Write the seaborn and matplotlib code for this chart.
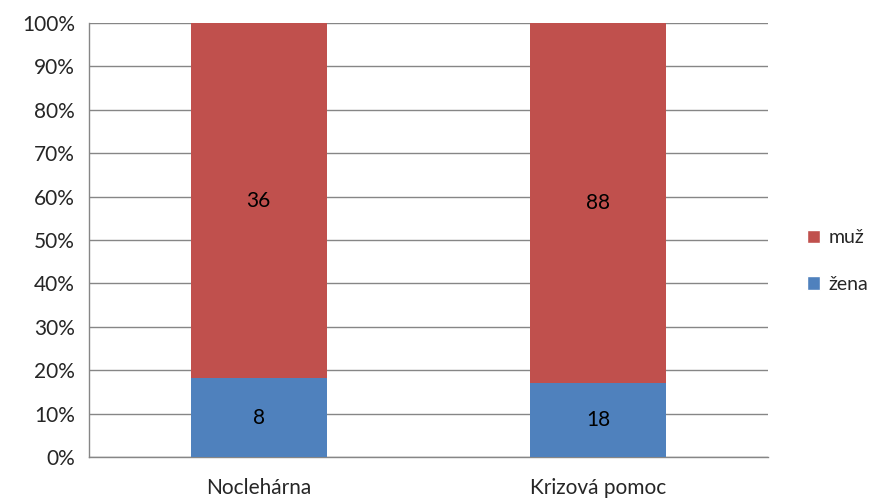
import seaborn as sns
import pandas as pd
import matplotlib.pyplot as plt
from matplotlib.patches import Patch

categories = ['Noclehárna', 'Krizová pomoc']
zena = [8, 18]
muz = [36, 88]
series_names = ['muž', 'žena']
colors = {'muž': '#C0504D', 'žena': '#4F81BD'}

df = pd.DataFrame({'kategorie': categories, 'žena': zena, 'muž': muz})
df['total'] = df['žena'] + df['muž']
df['zena_pct'] = df['žena'] / df['total'] * 100
df['muz_pct'] = 100.0

sns.set_style('white')
plt.rcParams['font.family'] = ['Lato', 'DejaVu Sans']

fig = plt.figure(figsize=(8.77, 4.99), dpi=100)
ax = fig.add_axes([0.1015, 0.0842, 0.7742, 0.8697])

# full bar = muž on top, žena drawn over it from zero
sns.barplot(data=df, x='kategorie', y='muz_pct', color=colors['muž'], width=0.4,
            saturation=1, ax=ax, order=categories, zorder=3, linewidth=0)
sns.barplot(data=df, x='kategorie', y='zena_pct', color=colors['žena'], width=0.4,
            saturation=1, ax=ax, order=categories, zorder=3, linewidth=0)

for i, row in df.iterrows():
    ax.text(i, row['zena_pct'] / 2, str(row['žena']), ha='center', va='center',
            fontsize=15, color='black', zorder=4)
    ax.text(i, row['zena_pct'] + (100 - row['zena_pct']) / 2, str(row['muž']),
            ha='center', va='center', fontsize=15, color='black', zorder=4)

ax.set_xlim(-0.5, 1.5)
ax.set_ylim(0, 100)
ax.set_yticks(range(0, 101, 10))
ax.set_yticklabels([f'{v}%' for v in range(0, 101, 10)], fontsize=15)
ax.set_xticks(range(len(categories)))
ax.set_xticklabels(categories, fontsize=15)
ax.set_xticks([-0.5, 0.5, 1.5], minor=True)
ax.tick_params(axis='x', which='major', length=0, pad=15)
ax.tick_params(axis='x', which='minor', length=6, color='#868686', width=1)
ax.tick_params(axis='y', length=6, color='#868686', width=1, pad=4)
ax.set_xlabel('')
ax.set_ylabel('')

ax.yaxis.grid(True, color='#868686', linewidth=1, zorder=0)
ax.set_axisbelow(True)
for s in ['top', 'right']:
    ax.spines[s].set_visible(False)
for s in ['left', 'bottom']:
    ax.spines[s].set_color('#868686')
    ax.spines[s].set_linewidth(1)

handles = [Patch(facecolor=colors[n], label=n) for n in series_names]
fig.legend(handles=handles, loc='center left', bbox_to_anchor=(0.92, 0.477),
           frameon=False, fontsize=14, handlelength=0.7, handleheight=0.7,
           handletextpad=0.4, labelspacing=1.5, borderaxespad=0, borderpad=0)

fig.savefig('out.png', dpi=100)
